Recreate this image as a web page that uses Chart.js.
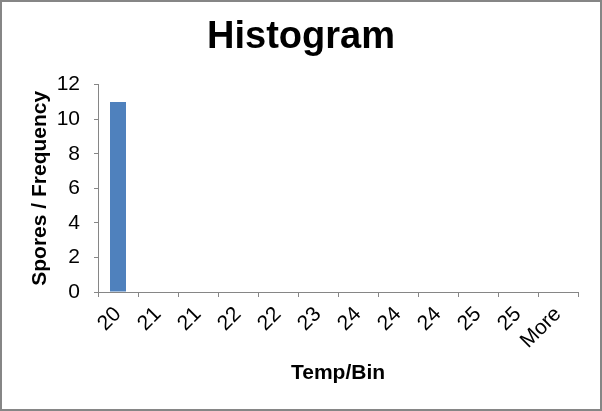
<!DOCTYPE html>
<html>
<head>
<meta charset="utf-8">
<script src="https://cdn.jsdelivr.net/npm/chart.js@4"></script>
<style>
    html, body { margin: 0; padding: 0; background: #fff; }
    #wrap {
        box-sizing: border-box;
        width: 602px;
        height: 411px;
        border: 2px solid #868686;
        background: #fff;
    }
    #wrap canvas { display: block; }
</style>
</head>
<body>
<div id="wrap"><canvas id="chart" width="598" height="407"></canvas></div>
<script>
// Data
var binLabels = ['20', '21', '21', '22', '22', '23', '24', '24', '24', '25', '25', 'More'];
var frequency = [11, 0, 0, 0, 0, 0, 0, 0, 0, 0, 0, 0];
var yTicks = [0, 2, 4, 6, 8, 10, 12];

var axisGray = '#868686';

Chart.defaults.font.family = '"Liberation Sans", Arial, sans-serif';
Chart.defaults.color = '#000';

new Chart(document.getElementById('chart'), {
    type: 'bar',
    data: {
        labels: binLabels,
        datasets: [{
            label: 'Frequency',
            data: frequency,
            backgroundColor: '#4F81BD',
            borderWidth: 0,
            barPercentage: 0.4,
            categoryPercentage: 1
        }]
    },
    options: {
        responsive: false,
        animation: false,
        layout: {
            padding: 0
        },
        plugins: {
            legend: { display: false },
            tooltip: { enabled: false },
            title: {
                display: true,
                text: 'Histogram',
                font: { size: 38, weight: 'bold' },
                padding: { top: 13, bottom: 24 }
            }
        },
        scales: {
            x: {
                grid: {
                    display: true,
                    offset: true,
                    drawOnChartArea: false,
                    drawTicks: true,
                    tickLength: 5,
                    color: axisGray
                },
                border: { display: true, color: axisGray, width: 1 },
                ticks: {
                    font: { size: 21 },
                    maxRotation: 45,
                    minRotation: 45,
                    autoSkip: false,
                    padding: 5
                },
                title: {
                    display: true,
                    text: 'Temp/Bin',
                    font: { size: 21, weight: 'bold' },
                    padding: { top: 0, bottom: 23 }
                },
                afterFit: function (axis) { axis.height = 117; }
            },
            y: {
                min: yTicks[0],
                max: yTicks[yTicks.length - 1],
                grid: {
                    display: true,
                    drawOnChartArea: false,
                    drawTicks: true,
                    tickLength: 4,
                    color: axisGray
                },
                border: { display: true, color: axisGray, width: 1 },
                afterBuildTicks: function (axis) {
                    axis.ticks = yTicks.map(function (v) { return { value: v }; });
                },
                ticks: {
                    font: { size: 21 },
                    padding: 14
                },
                title: {
                    display: true,
                    text: 'Spores / Frequency',
                    font: { size: 21, weight: 'bold' },
                    padding: { top: 26, bottom: 0 }
                },
                afterFit: function (axis) { axis.width = 96; }
            },
            // empty spacer on the right so the plot ends where the reference does
            spacer: {
                type: 'linear',
                position: 'right',
                display: true,
                grid: { display: false },
                border: { display: false },
                ticks: { display: false },
                afterFit: function (axis) { axis.width = 22; }
            }
        }
    }
});
</script>
</body>
</html>
